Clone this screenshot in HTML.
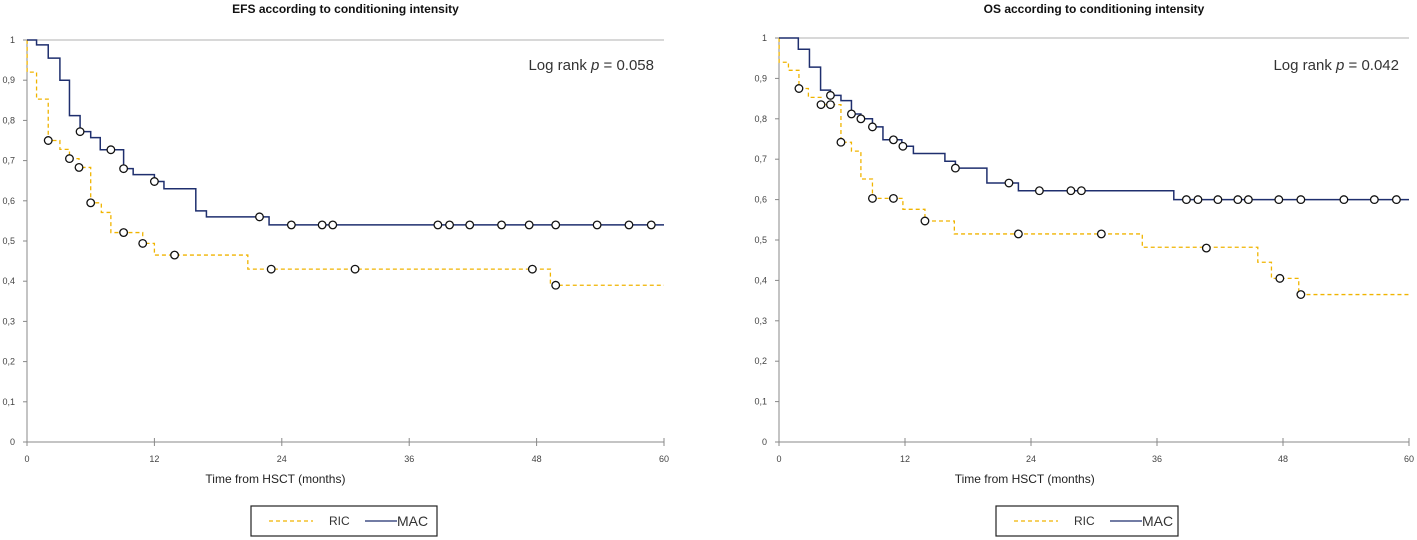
<!DOCTYPE html>
<html><head><meta charset="utf-8"><style>
body{margin:0;background:#fff;width:1417px;height:540px;overflow:hidden;font-family:"Liberation Sans",sans-serif}
svg{position:absolute;left:0;top:0}
</style></head><body>
<svg id="s" width="1417" height="540"></svg>
<script>
// EFS chart data
const efsMacT=[0,0.9,2.0,3.1,4.0,5.0,6.0,6.9,9.1,10.0,12.0,12.9,15.9,16.9,22.8,60];
const efsMacV=[1,0.988,0.955,0.90,0.812,0.772,0.757,0.727,0.68,0.665,0.648,0.63,0.575,0.56,0.54,0.54];
const efsMacCT=[5.0,7.9,9.1,12.0,21.9,24.9,27.8,28.8,38.7,39.8,41.7,44.7,47.3,49.8,53.7,56.7,58.8];
const efsMacCV=[0.772,0.727,0.68,0.648,0.56,0.54,0.54,0.54,0.54,0.54,0.54,0.54,0.54,0.54,0.54,0.54,0.54];
const efsRicT=[0,0.01,0.9,2.0,3.1,4.0,4.9,6.0,7.0,7.9,10.9,12.0,20.8,49.3,60];
const efsRicV=[1,0.92,0.853,0.75,0.728,0.705,0.683,0.595,0.571,0.521,0.494,0.465,0.43,0.39,0.39];
const efsRicCT=[2.0,4.0,4.9,6.0,9.1,10.9,13.9,23.0,30.9,47.6,49.8];
const efsRicCV=[0.75,0.705,0.683,0.595,0.521,0.494,0.465,0.43,0.43,0.43,0.39];
// OS chart data
const osMacT=[0,1.84,2.9,3.96,4.9,5.9,6.9,7.8,8.9,9.9,11.7,12.8,15.8,16.8,19.8,22.8,37.6,60];
const osMacV=[1,0.972,0.928,0.871,0.858,0.845,0.812,0.80,0.78,0.748,0.732,0.714,0.695,0.678,0.641,0.622,0.60,0.60];
const osMacCT=[4.9,6.9,7.8,8.9,10.9,11.8,16.8,21.9,24.8,27.8,28.8,38.8,39.9,41.8,43.7,44.7,47.6,49.7,53.8,56.7,58.8];
const osMacCV=[0.858,0.812,0.80,0.78,0.748,0.732,0.678,0.641,0.622,0.622,0.622,0.60,0.60,0.60,0.60,0.60,0.60,0.60,0.60,0.60,0.60];
const osRicT=[0,0.01,0.9,1.9,2.8,4.0,5.9,6.9,7.8,8.9,11.8,13.9,16.7,34.6,45.6,46.9,49.5,60];
const osRicV=[1,0.94,0.92,0.875,0.853,0.835,0.742,0.72,0.651,0.603,0.576,0.547,0.515,0.482,0.445,0.405,0.365,0.365];
const osRicCT=[1.9,4.0,4.9,5.9,8.9,10.9,13.9,22.8,30.7,40.7,47.7,49.7];
const osRicCV=[0.875,0.835,0.835,0.742,0.603,0.603,0.547,0.515,0.515,0.48,0.405,0.365];
const yTicks=[0,0.1,0.2,0.3,0.4,0.5,0.6,0.7,0.8,0.9,1];
const yLabels=["0","0,1","0,2","0,3","0,4","0,5","0,6","0,7","0,8","0,9","1"];
const xTicks=[0,12,24,36,48,60];

const NS="http://www.w3.org/2000/svg";
const svg=document.getElementById('s');
function mk(tag,attrs,parent,text){const e=document.createElementNS(NS,tag);for(const k in attrs)e.setAttribute(k,attrs[k]);if(text!==undefined)e.textContent=text;(parent||svg).appendChild(e);return e;}

function chart(cfg){
  const g=mk('g',{});
  
  
  const X=t=>cfg.x0+(cfg.x1-cfg.x0)*t/60;
  const Y=v=>cfg.y0+(cfg.y1-cfg.y0)*v;
  const t=mk('text',{x:(cfg.x0+cfg.x1)/2,y:13,'text-anchor':'middle','font-size':12,'font-weight':'bold',fill:'#111'},g,cfg.title);
  
  
  const grid=mk('line',{x1:cfg.x0,x2:cfg.x1,y1:Y(1),y2:Y(1),stroke:'#b0b0b0','stroke-width':1},g);
  
  
  const ya=mk('line',{x1:cfg.x0,x2:cfg.x0,y1:Y(1),y2:Y(0),stroke:'#888','stroke-width':1},g);
  
  
  const xa=mk('line',{x1:cfg.x0,x2:cfg.x1,y1:Y(0),y2:Y(0),stroke:'#888','stroke-width':1},g);
  
  
  yTicks.forEach((v,i)=>{
    mk('line',{x1:cfg.x0-4,x2:cfg.x0,y1:Y(v),y2:Y(v),stroke:'#888'},g);
    const l=mk('text',{x:cfg.x0-12,y:Y(v)+3,'text-anchor':'end','font-size':9,fill:'#444'},g,yLabels[i]);
    
    
  });
  xTicks.forEach(v=>{
    mk('line',{x1:X(v),x2:X(v),y1:Y(0)-4,y2:Y(0)+4,stroke:'#888'},g);
    const l=mk('text',{x:X(v),y:Y(0)+20,'text-anchor':'middle','font-size':9,fill:'#444'},g,String(v));
    
    
  });
  const xt=mk('text',{x:cfg.x0+(cfg.x1-cfg.x0)*0.39,y:483,'text-anchor':'middle','font-size':12,fill:'#222'},g,'Time  from HSCT  (months)');
  
  
  const lr=mk('text',{x:cfg.x1-10,y:70,'text-anchor':'end','font-size':15,fill:'#333'},g);
  
  
  lr.innerHTML=cfg.logrank;
  function step(T,V,style,nm){
    let d='M'+X(T[0])+','+Y(V[0]);
    for(let i=1;i<T.length;i++){d+=' H'+X(T[i])+' V'+Y(V[i]);}
    const p=mk('path',Object.assign({d:d,fill:'none'},style),g);
    
    
  }
  function cens(T,V,nm){
    T.forEach((t,i)=>{
      const c=mk('circle',{cx:X(t),cy:Y(V[i]),r:3.8,fill:'#fff',stroke:'#111','stroke-width':1.3},g);
      
      
    });
  }
  step(cfg.ricT,cfg.ricV,{stroke:'#f0b400','stroke-width':1.3,'stroke-dasharray':'4,3'},'ric-curve');
  step(cfg.macT,cfg.macV,{stroke:'#1f2f6e','stroke-width':1.5},'mac-curve');
  cens(cfg.ricCT,cfg.ricCV,'ric-censor-mark');
  cens(cfg.macCT,cfg.macCV,'mac-censor-mark');
  const lg=mk('g',{},g);
  
  
  const L=cfg.lx;
  mk('rect',{x:L,y:506,width:cfg.lw,height:30,fill:'#fff',stroke:'#222','stroke-width':1.2},lg);
  mk('line',{x1:L+18,x2:L+62,y1:521,y2:521,stroke:'#f0b400','stroke-width':1.2,'stroke-dasharray':'4,3'},lg);
  const r=mk('text',{x:L+78,y:525,'font-size':12,fill:'#333'},lg,'RIC');
  
  
  mk('line',{x1:L+114,x2:L+146,y1:521,y2:521,stroke:'#1f2f6e','stroke-width':1.3},lg);
  const m=mk('text',{x:L+146,y:526,'font-size':14,fill:'#333'},lg,'MAC');
  
  
}
chart({name:'efs-chart',title:'EFS  according to conditioning  intensity',x0:27,x1:664,y0:442,y1:40,
  logrank:'Log rank <tspan font-style="italic">p</tspan> = 0.058',lx:251,lw:186,
  macT:efsMacT,macV:efsMacV,macCT:efsMacCT,macCV:efsMacCV,ricT:efsRicT,ricV:efsRicV,ricCT:efsRicCT,ricCV:efsRicCV});
chart({name:'os-chart',title:'OS according to conditioning  intensity',x0:779,x1:1409,y0:442,y1:38,
  logrank:'Log rank  <tspan font-style="italic">p</tspan> = 0.042',lx:996,lw:182,
  macT:osMacT,macV:osMacV,macCT:osMacCT,macCV:osMacCV,ricT:osRicT,ricV:osRicV,ricCT:osRicCT,ricCV:osRicCV});
</script>
</body></html>
